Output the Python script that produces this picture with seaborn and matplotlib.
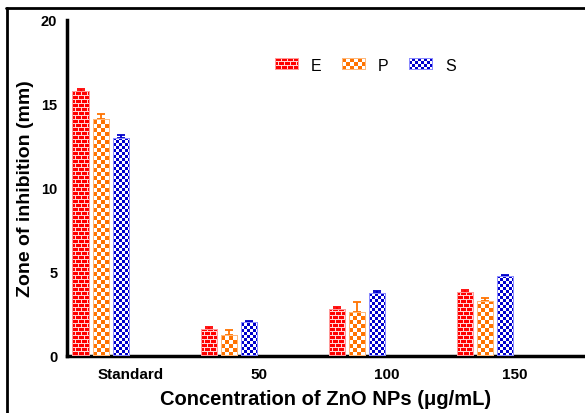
import numpy as np
import pandas as pd
import matplotlib
matplotlib.use("Agg")
import matplotlib.pyplot as plt
import matplotlib.colors as mcolors
from matplotlib.lines import Line2D
from matplotlib.patches import Patch
import seaborn as sns

categories = ["Standard", "50", "100", "150"]
series = ["E", "P", "S"]
E_vals = [15.8, 1.6, 2.8, 3.8]
E_err = [0.1, 0.1, 0.1, 0.1]
P_vals = [14.1, 1.25, 2.6, 3.3]
P_err = [0.3, 0.3, 0.6, 0.15]
S_vals = [13.0, 2.0, 3.75, 4.75]
S_err = [0.17, 0.1, 0.1, 0.1]

colors = {"E": "#ff0000", "P": "#ff7300", "S": "#0000cc"}
light = {"E": "#ff9a9a", "P": "#ffb87a", "S": "#8c8cff"}

sns.set_theme(style="white")
plt.rcParams["font.family"] = ["Liberation Sans", "DejaVu Sans"]

values = {"E": (E_vals, E_err), "P": (P_vals, P_err), "S": (S_vals, S_err)}
rows = []
for s in series:
    for c, v in zip(categories, values[s][0]):
        rows.append({"conc": c, "series": s, "value": v})
df = pd.DataFrame(rows)

fig = plt.figure(figsize=(5.85, 4.14), dpi=100)
ax = fig.add_axes([67 / 585, 57 / 414, 518 / 585, 336 / 414])

sns.barplot(data=df, x="conc", y="value", hue="series", order=categories,
            hue_order=series, palette=colors, width=0.47, gap=0.15,
            errorbar=None, saturation=1, linewidth=0, ax=ax, legend=False)

# error bars (upper only), from the bar geometry
bar_sets = {}
for s in series:
    rgba = mcolors.to_rgba(colors[s])
    bars = sorted([p for p in ax.patches if np.allclose(p.get_facecolor(), rgba)],
                  key=lambda p: p.get_x())
    bar_sets[s] = bars
    xs = [p.get_x() + p.get_width() / 2 for p in bars]
    v, e = values[s]
    ax.errorbar(xs, v, yerr=[np.zeros(len(e)), e], fmt="none", ecolor=colors[s],
                elinewidth=1.3, capsize=3.2, capthick=1.3, zorder=3)

ax.set_ylim(0, 20)
ax.set_yticks([0, 5, 10, 15, 20])
ax.set_xticks(np.arange(len(categories)) + 0.234, categories)
ax.set_xlim(-0.266, 3.78)

for sp in ["top", "right"]:
    ax.spines[sp].set_visible(False)
for sp in ["left", "bottom"]:
    ax.spines[sp].set_linewidth(2.5)
    ax.spines[sp].set_color("black")
ax.tick_params(axis="y", direction="out", length=6, width=2, color="black",
               labelsize=10.5, pad=1)
ax.tick_params(axis="x", direction="out", length=4, width=2, color="black",
               labelsize=11, pad=4)
for lab in ax.get_xticklabels() + ax.get_yticklabels():
    lab.set_fontweight("bold")
    lab.set_color("black")

ax.set_xlabel("Concentration of ZnO NPs (\u03bcg/mL)", fontsize=14.5,
              fontweight="bold", color="black", labelpad=6)
ax.set_ylabel("Zone of inhibition (mm)", fontsize=14, fontweight="bold",
              color="black", labelpad=5)

handles = [Patch(facecolor=colors[s], edgecolor="none", label=s) for s in series]
leg = ax.legend(handles=handles, loc="center", bbox_to_anchor=(0.576, 0.866),
                ncol=3, frameon=False, fontsize=11.5, handlelength=1.5,
                handleheight=0.7, handletextpad=0.75, columnspacing=1.3)
for t in leg.get_texts():
    t.set_color("black")

# figure frame (top and left edges)
fig.add_artist(Line2D([6 / 585, 1], [1 - 9 / 414, 1 - 9 / 414], color="black",
                      lw=2, transform=fig.transFigure))
fig.add_artist(Line2D([7 / 585, 7 / 585], [0, 1 - 9 / 414], color="black",
                      lw=2, transform=fig.transFigure))


def to_rgb(c):
    return np.array(mcolors.to_rgb(c))


def brick(h, w, base, mortar, edge):
    arr = np.empty((h, w, 3))
    arr[:] = to_rgb(base)
    m = to_rgb(mortar)
    for r in range(h):
        if r % 4 == 0:
            arr[r, :] = m
        else:
            off = 3 if (r // 4) % 2 else 0
            for c in range(w):
                if (c + off) % 6 == 0:
                    arr[r, c] = m
    arr[0, :] = arr[-1, :] = to_rgb(edge)
    arr[:, 0] = arr[:, -1] = to_rgb(edge)
    return arr


def checker(h, w, c1, c2, size, edge):
    rr, cc = np.mgrid[0:h, 0:w]
    mask = ((rr // size + cc // size) % 2) == 0
    arr = np.empty((h, w, 3))
    arr[mask] = to_rgb(c1)
    arr[~mask] = to_rgb(c2)
    arr[0, :] = arr[-1, :] = to_rgb(edge)
    arr[:, 0] = arr[:, -1] = to_rgb(edge)
    return arr


def pattern(s, h, w):
    if s == "E":
        return brick(h, w, colors["E"], "#ffd6d6", light["E"])
    if s == "P":
        return checker(h, w, colors["P"], "#ffffff", 4, light["P"])
    return checker(h, w, colors["S"], "#ffffff", 3, light["S"])


fig.canvas.draw()
renderer = fig.canvas.get_renderer()


def overlay(patch, s):
    bb = patch.get_window_extent(renderer)
    x0, x1 = int(round(bb.x0)), int(round(bb.x1))
    y0, y1 = int(round(bb.y0)), int(round(bb.y1))
    w, h = x1 - x0, y1 - y0
    if w < 2 or h < 2:
        return
    fig.figimage(pattern(s, h, w), xo=x0, yo=y0, origin="lower", zorder=5)


for s in series:
    for p in bar_sets[s]:
        overlay(p, s)
for s, hnd in zip(series, leg.legend_handles):
    overlay(hnd, s)

fig.savefig("out.png", dpi=100)
